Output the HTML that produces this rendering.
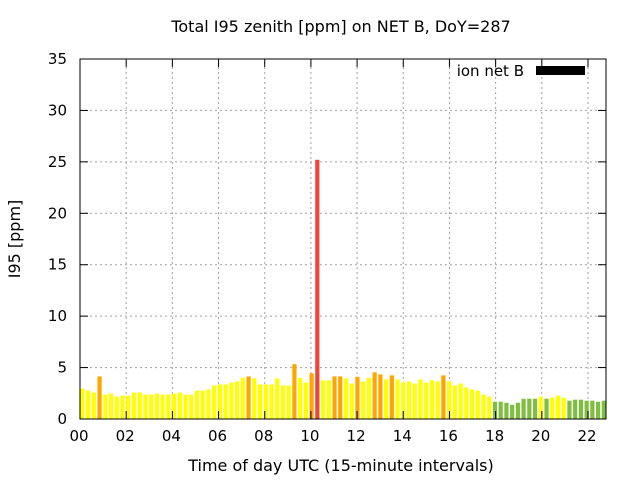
<!DOCTYPE html>
<html><head><meta charset="utf-8"><style>
body{margin:0;background:#fff;}
svg{display:block;font-family:"DejaVu Sans","Liberation Sans",sans-serif;}
</style></head><body>
<svg id="chart" width="640" height="480">
<rect width="640" height="480" fill="#fff"/>
<text x="341" y="32" text-anchor="middle" font-size="16">Total I95 zenith [ppm] on NET B, DoY=287</text>
<text x="341" y="471" text-anchor="middle" font-size="16">Time of day UTC (15-minute intervals)</text>
<text transform="translate(20,239) rotate(-90)" text-anchor="middle" font-size="16">I95 [ppm]</text>
<g id="grid"></g>
<g id="bars"></g>
<g id="axes"></g>
<g>
<text x="524" y="76" text-anchor="end" font-size="15">ion net B</text>
<rect x="536" y="66" width="49" height="9" fill="#000"/>
</g>
</svg>
<script>
const values=[2.96,2.76,2.57,4.14,2.37,2.47,2.17,2.27,2.27,2.57,2.57,2.37,2.37,2.47,2.37,2.37,2.47,2.57,2.37,2.37,2.76,2.76,2.86,3.26,3.36,3.36,3.55,3.65,4.0,4.14,3.95,3.36,3.36,3.36,3.95,3.26,3.26,5.33,4.0,3.55,4.44,25.2,3.75,3.75,4.14,4.14,3.95,3.45,4.1,3.65,4.0,4.54,4.34,3.85,4.24,3.85,3.55,3.65,3.45,3.85,3.55,3.75,3.65,4.24,3.65,3.26,3.45,3.06,2.86,2.76,2.37,2.17,1.68,1.68,1.58,1.38,1.58,1.97,1.97,1.97,2.17,1.97,2.07,2.27,2.07,1.78,1.88,1.88,1.78,1.78,1.68,1.78];
const yTicks=[0,5,10,15,20,25,30,35];
const xTicks=[0,2,4,6,8,10,12,14,16,18,20,22];
const X0=80,X1=606,Y0=419,Y1=59,XMAX=22.78,YMAX=35;
const NS="http://www.w3.org/2000/svg";
const xs=h=>X0+h/XMAX*(X1-X0);
const ys=v=>Y0-v/YMAX*(Y0-Y1);
function mk(tag,attrs,parent){const e=document.createElementNS(NS,tag);for(const k in attrs)e.setAttribute(k,attrs[k]);parent.appendChild(e);return e;}
const grid=document.getElementById('grid'),bars=document.getElementById('bars'),axes=document.getElementById('axes');
yTicks.forEach(t=>{
 const y=ys(t);
 if(t>0&&t<YMAX){const l=mk('line',{x1:X0,x2:X1,y1:y,y2:y,stroke:'#a0a0a0','stroke-dasharray':'2,3','stroke-width':1},grid);
 
 }
 const a=mk('line',{x1:X0,x2:X0+8,y1:y,y2:y,stroke:'#000'},axes);
 
 
 const b=mk('line',{x1:X1,x2:X1-8,y1:y,y2:y,stroke:'#000'},axes);
 
 
 const tx=mk('text',{x:X0-13,y:y+5,'text-anchor':'end','font-size':15},axes);tx.textContent=t;
 
 
});
xTicks.forEach(t=>{
 const x=xs(t);
 if(t>0){const l=mk('line',{x1:x,x2:x,y1:Y0,y2:Y1,stroke:'#a0a0a0','stroke-dasharray':'2,3','stroke-width':1},grid);
 
 }
 const a=mk('line',{x1:x,x2:x,y1:Y0,y2:Y0-8,stroke:'#000'},axes);
 
 
 const b=mk('line',{x1:x,x2:x,y1:Y1,y2:Y1+8,stroke:'#000'},axes);
 
 
 const tx=mk('text',{x:x-1,y:Y0+22,'text-anchor':'middle','font-size':15},axes);tx.textContent=String(t).padStart(2,'0');
 
 
});
const step=5.73;
values.forEach((v,i)=>{
 const x=X0+i*step+0.3;
 let w=4.2; if(x+w>X1)w=X1-x; if(w<=0)return;
 const c=v>10?'#ee4539':v>=4.08?'#ffa500':v>=2?'#ffff00':'#7fbf3f';
 const r=mk('rect',{x:x,y:ys(v),width:w,height:Y0-ys(v),fill:c},bars);
 
 
});
const bd=mk('rect',{x:X0,y:Y1,width:X1-X0,height:Y0-Y1,fill:'none',stroke:'#000','stroke-width':1},axes);


</script>
</body></html>
